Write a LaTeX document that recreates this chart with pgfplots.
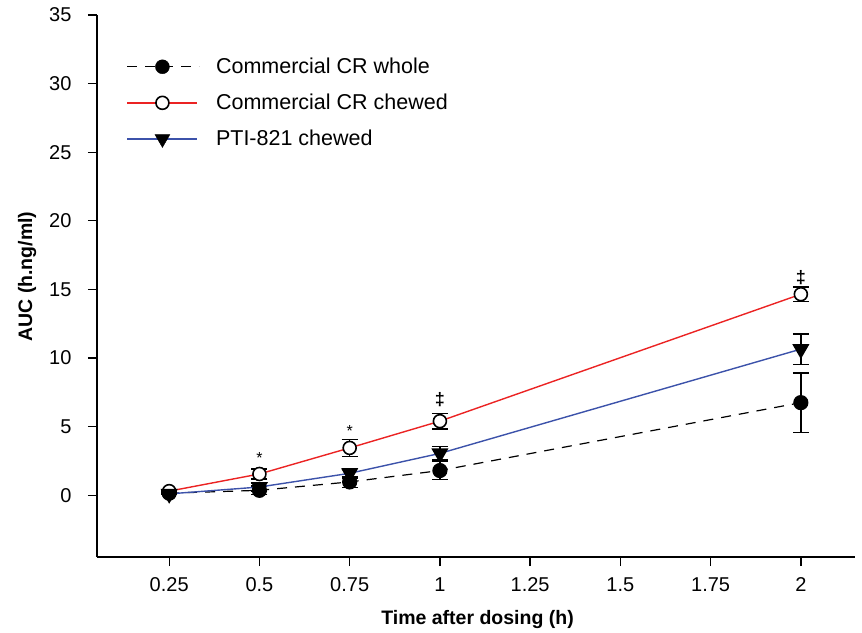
\documentclass[border=0pt]{standalone}
\usepackage{fontspec}
\setmainfont{Liberation Sans}
\usepackage{pgfplots}
\usepackage{pgfplotstable}
\pgfplotsset{compat=1.18}
\definecolor{cred}{RGB}{235,35,35}
\definecolor{cblue}{RGB}{60,82,170}

\pgfplotstableread{
x y e
0.25 0.15 0.10
0.5 0.36 0.30
0.75 0.97 0.40
1 1.80 0.65
2 6.75 2.18
}\whole
\pgfplotstableread{
x y e
0.25 0.30 0.10
0.5 1.55 0.38
0.75 3.45 0.62
1 5.40 0.57
2 14.65 0.53
}\chewed
\pgfplotstableread{
x y e
0.25 0.10 0.05
0.5 0.60 0.30
0.75 1.60 0.35
1 3.05 0.50
2 10.65 1.12
}\pti

\begin{document}
\begin{tikzpicture}
\useasboundingbox (-97pt,-75pt) rectangle (765pt,557pt);
\begin{axis}[
  at={(0pt,0pt)}, anchor=south west,
  scale only axis, width=758pt, height=542pt,
  xmin=0.05, xmax=2.15, ymin=-4.5, ymax=35,
  axis lines=left, axis line style={-, line width=1.3pt},
  xtick={0.25,0.5,0.75,1,1.25,1.5,1.75,2},
  xticklabels={0.25,0.5,0.75,1,1.25,1.5,1.75,2},
  ytick={0,5,10,15,20,25,30,35},
  tick align=outside, major tick length=9pt,
  tick style={line width=1.3pt, black},
  ticklabel style={font=\fontsize{20}{24}\selectfont},
  xticklabel style={yshift=-8pt},
  yticklabel style={xshift=-13pt},
  /pgf/number format/assume math mode=true,
  xlabel={\textbf{Time after dosing (h)}},
  ylabel={\textbf{AUC (h.ng/ml)}},
  label style={font=\fontsize{19.5}{23}\selectfont},
  xlabel style={at={(axis description cs:0.502,-0.116)}, anchor=center},
  ylabel style={at={(axis description cs:-0.0923,0.5175)}, anchor=center},
  legend style={at={(axis description cs:0.035,0.928)}, anchor=north west, draw=none, fill=none,
    font=\fontsize{21.5}{25}\selectfont, row sep=15pt},
  legend cell align=left,
  error bars/error bar style={line width=1.6pt, black, solid},
  error bars/error mark options={rotate=90, mark size=8pt, line width=1.6pt, black, solid},
]
\addlegendimage{legend image code/.code={
  \draw[black, line width=1.2pt, dash pattern=on 10pt off 8pt] (0pt,0pt) -- (72pt,0pt);
  \fill[black] (35pt,0pt) circle (7pt);}}
\addlegendentry{\hspace{14pt}Commercial CR whole}
\addlegendimage{legend image code/.code={
  \draw[cred, line width=1.4pt] (0pt,0pt) -- (70pt,0pt);
  \draw[black, fill=white, line width=1.6pt] (35pt,0pt) circle (6.5pt);}}
\addlegendentry{\hspace{14pt}Commercial CR chewed}
\addlegendimage{legend image code/.code={
  \draw[cblue, line width=1.4pt] (0pt,0pt) -- (70pt,0pt);
  \fill[black] (35pt,-8.5pt) -- (42.4pt,4.25pt) -- (27.6pt,4.25pt) -- cycle;}}
\addlegendentry{\hspace{14pt}PTI-821 chewed}
\addplot[forget plot, black, line width=1.2pt, dash pattern=on 10pt off 8pt,
  mark=*, mark size=7pt, mark options={solid, fill=black, draw=black},
  error bars/.cd, y dir=both, y explicit]
  table[x=x, y=y, y error=e] {\whole};
\addplot[forget plot, cred, line width=1.4pt,
  mark=*, mark size=6.5pt, mark options={solid, fill=white, draw=black, line width=1.6pt},
  error bars/.cd, y dir=both, y explicit]
  table[x=x, y=y, y error=e] {\chewed};
\addplot[forget plot, cblue, line width=1.4pt,
  mark=triangle*, mark size=8.5pt, mark options={solid, fill=black, draw=black, rotate=180},
  error bars/.cd, y dir=both, y explicit]
  table[x=x, y=y, y error=e] {\pti};
\node[font=\fontsize{16}{18}\selectfont] at (axis cs:0.5,2.75) {*};
\node[font=\fontsize{16}{18}\selectfont] at (axis cs:0.75,4.65) {*};
\node[font=\bfseries\fontsize{18}{20}\selectfont] at (axis cs:1,7.0) {‡};
\node[font=\bfseries\fontsize{18}{20}\selectfont] at (axis cs:2,15.85) {‡};
\end{axis}
\end{tikzpicture}
\end{document}
